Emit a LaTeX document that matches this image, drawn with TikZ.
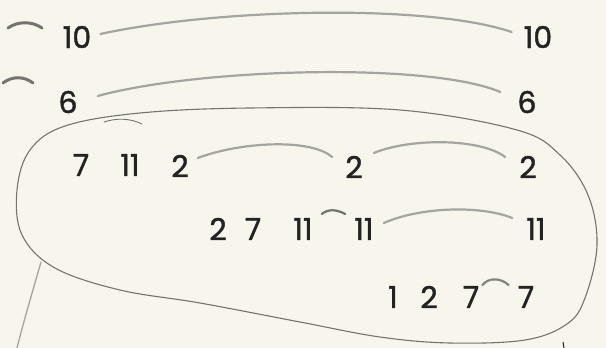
\documentclass[tikz,border=0pt]{standalone}
\usepackage{fontspec}
\setmainfont{Poppins}
\newfontfamily\numfont{Poppins}[FakeBold=1.4]
\usetikzlibrary{calc}
\definecolor{paper}{RGB}{248,245,236}
\definecolor{ink}{RGB}{35,35,35}
\definecolor{pencil}{RGB}{165,165,160}
\definecolor{lead}{RGB}{115,115,112}
\begin{document}
\begin{tikzpicture}[x=1pt,y=-1pt,
  num/.style={inner sep=0pt, text=ink, font=\numfont\fontsize{30}{30}\selectfont},
  arcline/.style={draw=pencil, line width=2.2pt, line cap=round},
  bigloop/.style={draw=lead, line width=1.1pt, line cap=round}]
\fill[paper] (0,0) rectangle (606,348);
\useasboundingbox (0,0) rectangle (606,348);
% numbers
\node[num] (t10a) at (77,37) {10};
\node[num] (t10b) at (538,37) {10};
\node[num] (t6a) at (68,102) {6};
\node[num] (t6b) at (527,102) {6};
\node[num] (n7a) at (81,165) {7};
\node[num] (n11a) at (130,165) {11};
\node[num] (n2a) at (180,166) {2};
\node[num] (n2b) at (354,167) {2};
\node[num] (n2c) at (528,167) {2};
\node[num] (n2d) at (218,229) {2};
\node[num] (n7b) at (253,229) {7};
\node[num] (n11b) at (303,229) {11};
\node[num] (n11c) at (364,229) {11};
\node[num] (n11d) at (536,229) {11};
\node[num] (n1) at (393,297) {1};
\node[num] (n2e) at (429,297) {2};
\node[num] (n7c) at (471,297) {7};
\node[num] (n7d) at (526,297) {7};
% small free arcs at left
\draw[arcline, draw=lead, line width=3pt] (8,28) .. controls (18,21) and (32,21) .. (42,28);
\draw[arcline, draw=lead, line width=3pt] (3,83) .. controls (12,76) and (24,76) .. (33,83);
% arcs between nodes
\coordinate (a10s) at ($(t10a.east)+(9,-3)$);
\coordinate (a10e) at ($(t10b.west)+(-12,-5)$);
\draw[arcline] (a10s) .. controls (220,8) and (430,4) .. (a10e);
\coordinate (a6s) at ($(t6a.east)+(20,-6)$);
\coordinate (a6e) at ($(t6b.west)+(-17,-10)$);
\draw[arcline] (a6s) .. controls (200,68) and (430,62) .. (a6e);
\coordinate (a2s) at ($(n2a.east)+(9,-8)$);
\coordinate (a2e) at ($(n2b.west)+(-13,-10)$);
\draw[arcline] (a2s) .. controls (240,142) and (310,138) .. (a2e);
\coordinate (a2bs) at ($(n2b.east)+(11,-14)$);
\coordinate (a2be) at ($(n2c.west)+(-14,-10)$);
\draw[arcline] (a2bs) .. controls (410,138) and (480,138) .. (a2be);
\coordinate (a11s) at ($(n11b.east)+(9,-15)$);
\coordinate (a11e) at ($(n11c.west)+(-9,-15)$);
\draw[arcline, draw=lead] (a11s) .. controls (328,209) and (336,209) .. (a11e);
\coordinate (a11bs) at ($(n11c.east)+(10,-6)$);
\coordinate (a11be) at ($(n11d.west)+(-14,-11)$);
\draw[arcline] (a11bs) .. controls (420,207) and (480,205) .. (a11be);
\coordinate (a7s) at ($(n7c.east)+(3,-12)$);
\coordinate (a7e) at ($(n7d.west)+(-9,-12)$);
\draw[arcline, draw=pencil!80!black] (a7s) .. controls (489,277) and (501,278) .. (a7e);
% big loop
\draw[bigloop] plot[smooth cycle, tension=0.6] coordinates {
  (140,113) (250,108) (400,110) (517,130) (560,155) (588,195) (597,245)
  (585,298) (567,324) (525,340) (450,343) (380,337) (300,322) (200,303)
  (120,290) (55,268) (22,235) (17,190) (30,150) (65,126)};
\draw[bigloop, line width=0.9pt] (104,122) .. controls (116,118) and (130,118) .. (142,124);
% separate strokes
\draw[draw=pencil, line width=1.3pt] (41,262) .. controls (33,290) and (24,320) .. (17,348);
\draw[draw=ink, line width=1pt] (563,342) -- (564,348);
\end{tikzpicture}
\end{document}
